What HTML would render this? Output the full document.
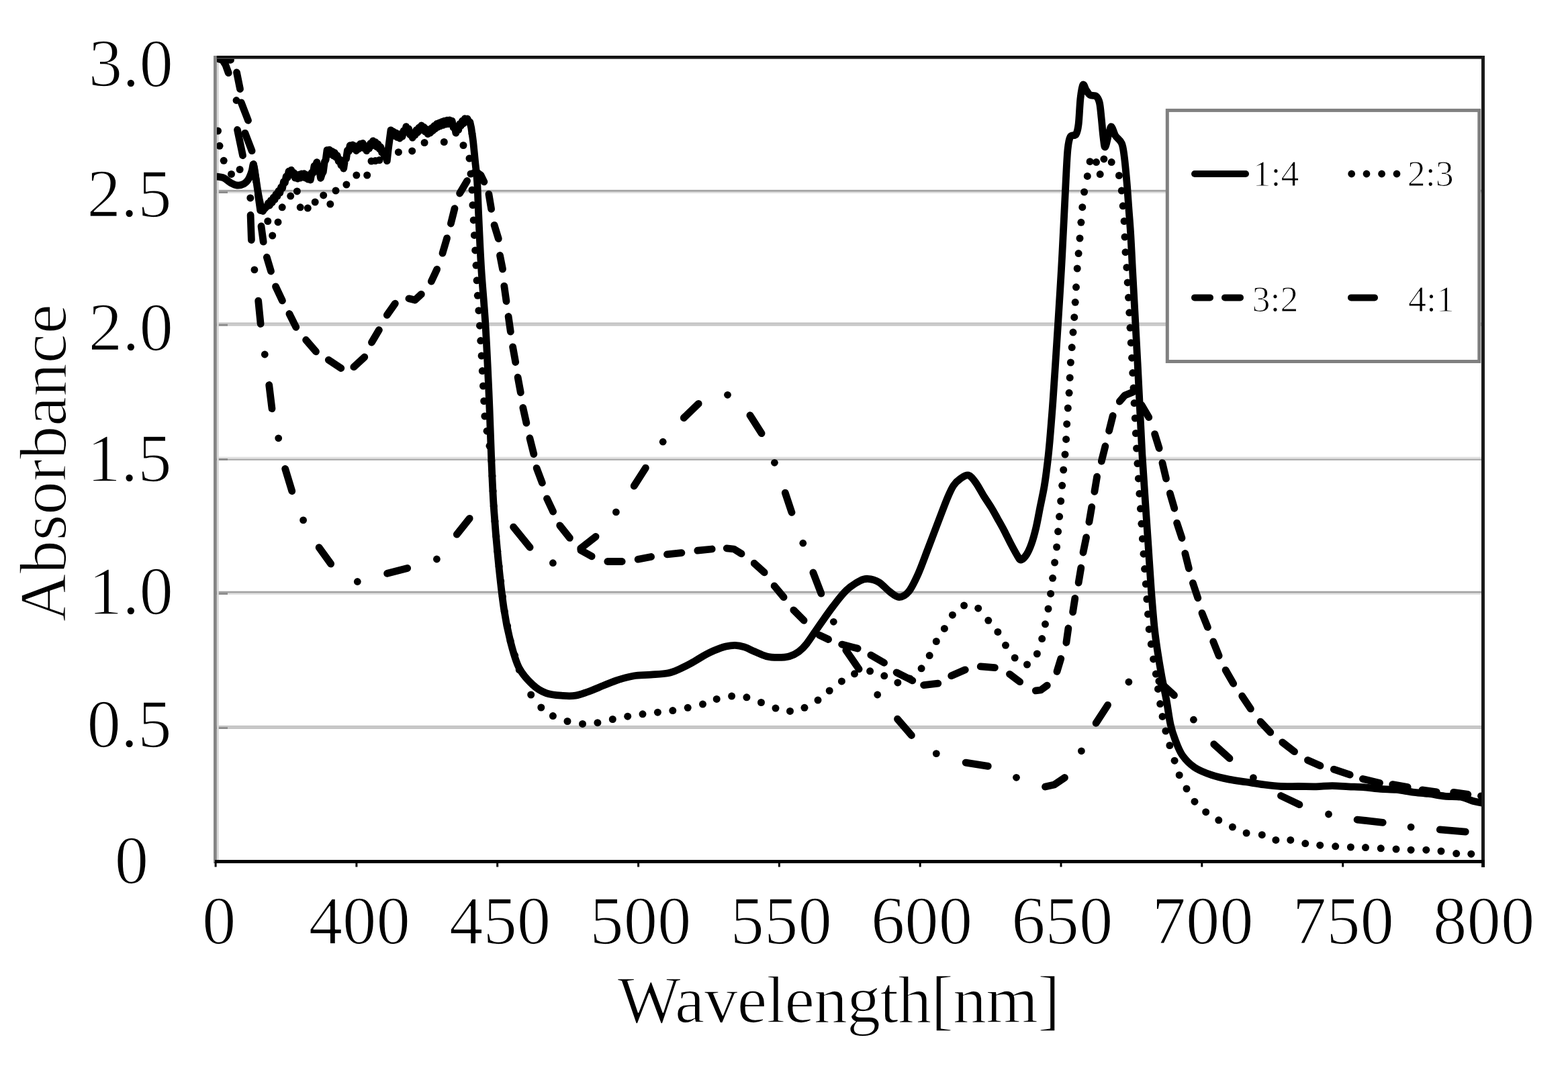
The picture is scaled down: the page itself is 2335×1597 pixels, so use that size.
<!DOCTYPE html><html><head><meta charset="utf-8"><title>Absorbance spectra</title>
<style>html,body{margin:0;padding:0;background:#fff;overflow:hidden}svg{display:block}text{font-family:"Liberation Serif","Times New Roman",serif;fill:#000;stroke:#fff;stroke-width:1.6px;stroke-linejoin:round}text.lg{stroke-width:1.1px}</style></head><body>
<svg width="2335" height="1597" viewBox="0 0 2335 1597">
<rect width="2335" height="1597" fill="#fff"/>
<rect x="320" y="282.8" width="1888" height="3" fill="#a3a3a3"/>
<rect x="320" y="285.8" width="1888" height="2.2" fill="#e0e0e0"/>
<rect x="322" y="285.2" width="17" height="2.8" fill="#8a8a8a"/>
<rect x="320" y="480.4" width="1888" height="3" fill="#c4c4c4"/>
<rect x="320" y="483.4" width="1888" height="2.2" fill="#c4c4c4"/>
<rect x="322" y="482.8" width="17" height="2.8" fill="#8a8a8a"/>
<rect x="320" y="680.6" width="1888" height="3" fill="#e0e0e0"/>
<rect x="320" y="683.6" width="1888" height="2.2" fill="#a8a8a8"/>
<rect x="322" y="683.0" width="17" height="2.8" fill="#8a8a8a"/>
<rect x="320" y="880.7" width="1888" height="3" fill="#a3a3a3"/>
<rect x="320" y="883.7" width="1888" height="2.2" fill="#e0e0e0"/>
<rect x="322" y="883.1" width="17" height="2.8" fill="#8a8a8a"/>
<rect x="320" y="1080.8" width="1888" height="3" fill="#c4c4c4"/>
<rect x="320" y="1083.8" width="1888" height="2.2" fill="#c4c4c4"/>
<rect x="322" y="1083.2" width="17" height="2.8" fill="#8a8a8a"/>
<rect x="322.8" y="86" width="3" height="1195" fill="#d8d8d8"/>
<defs><clipPath id="pc"><rect x="322.8" y="84" width="1884" height="1199"/></clipPath></defs>
<g clip-path="url(#pc)">
<g fill="none" stroke="#000" stroke-width="10.8" stroke-linecap="round" stroke-linejoin="round">
<path d="M321.0,263.0 C323.0,263.3 329.3,263.5 333.0,265.0 C336.7,266.5 339.7,270.2 343.0,272.0 C346.3,273.8 349.7,275.7 353.0,276.0 C356.3,276.3 360.2,275.5 363.0,274.0 C365.8,272.5 368.0,270.2 370.0,267.0 C372.0,263.8 373.8,258.7 375.0,255.0 C376.2,251.3 376.6,243.8 377.5,245.0 C378.4,246.2 379.4,255.3 380.5,262.0 C381.6,268.7 382.8,277.8 384.0,285.0 C385.2,292.2 386.8,300.2 388.0,305.0 C389.2,309.8 390.3,312.7 391.0,314.0 C391.7,315.3 391.8,313.2 392.0,313.0"/>
<path d="M392.0,313.0 L393.9,311.1 L395.8,309.2 L397.7,307.3 L399.6,302.4 L401.5,306.0 L403.4,298.3 L405.3,301.8 L407.2,294.1 L409.1,297.4 L411.0,289.3 L412.9,292.4 L414.8,284.4 L416.7,287.5 L418.6,278.9 L420.5,280.4 L422.4,270.7 L424.3,272.2 L426.2,262.8 L428.1,264.6 L430.0,255.2 L431.9,259.9 L433.8,253.3 L435.7,260.7 L437.6,257.3 L439.5,265.1 L441.4,261.1 L443.3,266.2 L445.2,260.1 L447.1,265.1 L449.0,259.0 L450.9,264.1 L452.8,258.6 L454.7,265.1 L456.6,260.5 L458.5,267.0 L460.4,262.4 L462.3,268.0 L464.2,257.3 L466.1,257.9 L468.0,247.2 L469.9,247.7 L471.8,241.7 L473.7,253.3 L475.6,253.7 L477.5,265.3 L479.4,259.4 L481.3,256.1 L483.2,241.5 L485.1,238.1 L487.0,223.6 L488.9,227.6 L490.8,223.1 L492.7,229.9 L494.6,225.4 L496.5,232.0 L498.4,227.4 L500.3,234.3 L502.2,231.6 L504.1,240.2 L506.0,237.6 L507.9,246.2 L509.8,243.5 L511.7,251.0 L513.6,238.3 L515.5,236.7 L517.4,224.0 L519.3,225.7 L521.2,216.7 L523.1,221.0 L525.0,215.8 L526.9,221.8 L528.8,217.5 L530.7,224.6 L532.6,217.8 L534.5,221.7 L536.4,214.5 L538.3,218.4 L540.2,213.4 L542.1,220.9 L544.0,217.2 L545.9,224.7 L547.8,217.4 L549.7,221.1 L551.6,213.6 L553.5,217.3 L555.4,209.8 L557.3,215.8 L559.2,211.7 L561.1,218.8 L563.0,214.6 L564.9,221.7 L566.8,218.9 L568.7,227.3 L570.6,224.6 L572.5,233.3 L574.4,230.9 L576.3,239.6 L578.2,222.6 L580.1,208.3 L582.0,193.8 L583.9,200.5 L585.8,195.9 L587.7,202.6 L589.6,197.9 L591.5,204.4 L593.4,199.6 L595.3,206.0 L597.2,200.9 L599.1,203.4 L601.0,194.8 L602.9,197.3 L604.8,188.6 L606.7,194.4 L608.6,191.9 L610.5,200.6 L612.4,198.1 L614.3,205.2 L616.2,197.6 L618.1,201.2 L620.0,193.6 L621.9,197.5 L623.8,190.2 L625.7,194.1 L627.6,186.9 L629.5,193.3 L631.4,189.3 L633.3,196.4 L635.2,192.3 L637.1,199.5 L639.0,193.8 L640.9,197.8 L642.8,190.6 L644.7,194.7 L646.6,187.5 L648.5,191.5 L650.4,184.4 L652.3,189.3 L654.2,183.0 L656.1,187.8 L658.0,181.5 L659.9,186.4 L661.8,180.1 L663.7,185.1 L665.6,179.2 L667.5,184.6 L669.4,178.8 L671.3,184.2 L673.2,180.2 L675.1,189.9 L677.0,188.4 L678.9,198.1 L680.8,191.2 L682.7,193.5 L684.6,184.6 L686.5,187.4 L688.4,180.1 L690.3,184.0 L692.2,176.7 L694.1,181.4 L696.0,176.9 L697.9,180.8 L699.8,181.8 L701.7,190.1 L703.0,199.2"/>
<path d="M703.0,199.2 C703.3,201.1 703.8,203.6 704.6,210.5 C705.4,217.4 706.6,230.6 707.6,240.7 C708.6,250.8 709.8,257.8 710.6,271.0 C711.5,284.2 711.7,298.5 712.7,320.0 C713.7,341.5 715.0,373.1 716.7,400.0 C718.4,426.9 720.9,451.1 722.8,481.5 C724.7,511.9 726.4,549.2 727.9,582.3 C729.4,615.4 730.4,651.1 731.6,680.0 C732.8,708.9 733.6,730.4 735.3,755.6 C737.0,780.8 739.1,805.8 741.6,831.0 C744.1,856.2 747.2,885.7 750.4,906.7 C753.5,927.7 756.7,942.3 760.5,957.0 C764.3,971.7 767.5,984.4 773.0,994.9 C778.5,1005.4 786.5,1013.7 793.2,1020.0 C799.9,1026.3 805.9,1029.9 813.4,1032.6 C820.9,1035.3 831.2,1035.8 838.5,1036.4 C845.8,1037.0 851.2,1037.1 857.2,1036.2 C863.2,1035.3 868.7,1033.0 874.4,1031.0 C880.1,1029.0 884.4,1027.1 891.6,1024.2 C898.8,1021.3 908.9,1016.7 917.5,1013.8 C926.1,1010.9 934.7,1008.4 943.3,1007.0 C951.9,1005.6 960.5,1005.9 969.1,1005.2 C977.7,1004.5 987.7,1004.1 994.9,1002.7 C1002.1,1001.3 1006.4,999.1 1012.1,996.6 C1017.8,994.1 1023.6,991.1 1029.3,988.0 C1035.0,984.9 1040.8,980.9 1046.5,977.7 C1052.2,974.6 1058.0,971.5 1063.8,969.1 C1069.5,966.7 1075.8,964.4 1081.0,963.1 C1086.2,961.8 1090.1,961.2 1094.7,961.3 C1099.3,961.4 1103.6,962.3 1108.5,963.9 C1113.4,965.5 1118.5,968.5 1124.0,970.8 C1129.5,973.1 1135.5,976.3 1141.2,977.7 C1146.9,979.1 1152.7,979.4 1158.4,979.4 C1164.1,979.4 1170.4,979.1 1175.6,977.7 C1180.8,976.3 1185.1,973.9 1189.4,970.8 C1193.7,967.6 1196.3,965.3 1201.4,958.8 C1206.5,952.3 1213.6,941.0 1220.1,931.8 C1226.6,922.6 1233.6,912.3 1240.3,903.6 C1247.0,894.9 1253.7,885.8 1260.4,879.4 C1267.1,873.0 1275.2,868.1 1280.6,865.3 C1286.0,862.4 1287.9,862.0 1292.6,862.3 C1297.3,862.6 1303.4,864.1 1308.8,867.3 C1314.2,870.5 1319.9,877.7 1324.9,881.4 C1329.9,885.1 1334.3,889.5 1339.0,889.5 C1343.7,889.5 1348.4,887.1 1353.1,881.4 C1357.8,875.7 1362.5,865.6 1367.2,855.2 C1371.9,844.8 1376.3,832.1 1381.3,819.0 C1386.3,805.9 1392.4,789.8 1397.4,776.7 C1402.4,763.6 1407.7,749.3 1411.5,740.4 C1415.3,731.5 1416.9,727.7 1420.0,723.2 C1423.1,718.7 1426.3,715.7 1430.0,713.2 C1433.7,710.7 1438.3,707.1 1442.2,708.1 C1446.1,709.1 1449.4,714.0 1453.2,719.2 C1457.0,724.4 1461.4,733.1 1465.3,739.3 C1469.2,745.5 1473.0,751.0 1476.4,756.5 C1479.8,762.0 1482.3,766.9 1485.5,772.6 C1488.7,778.3 1492.2,784.3 1495.5,790.7 C1498.8,797.1 1502.2,804.4 1505.6,810.8 C1509.0,817.2 1513.2,825.1 1515.7,829.0 C1518.2,832.9 1518.5,834.5 1520.7,834.0 C1522.9,833.5 1526.3,829.9 1528.8,826.0 C1531.3,822.1 1533.4,817.5 1535.8,810.8 C1538.2,804.1 1540.7,794.9 1542.9,785.7 C1545.1,776.5 1546.9,765.6 1548.9,755.5 C1550.9,745.4 1553.3,735.1 1555.0,725.0 C1556.7,714.9 1558.0,705.0 1559.2,695.0 C1560.5,685.0 1561.5,675.5 1562.5,665.0 C1563.5,654.5 1564.4,643.3 1565.3,632.0 C1566.2,620.7 1567.0,611.5 1568.0,597.0 C1569.0,582.5 1570.2,565.3 1571.5,545.0 C1572.8,524.7 1574.5,499.2 1576.0,475.0 C1577.5,450.8 1579.2,424.7 1580.6,400.0 C1582.0,375.3 1583.3,348.3 1584.4,326.6 C1585.5,304.9 1586.3,287.3 1587.2,270.0 C1588.1,252.7 1588.9,233.8 1590.0,222.8 C1591.1,211.8 1591.8,207.7 1593.8,203.9 C1595.8,200.1 1600.2,203.2 1602.3,200.1 C1604.3,196.9 1605.0,193.8 1606.1,185.0 C1607.2,176.2 1607.8,157.0 1608.9,147.2 C1610.0,137.4 1611.3,128.6 1612.7,126.4 C1614.1,124.2 1615.7,131.5 1617.4,134.0 C1619.1,136.5 1620.6,139.9 1623.1,141.5 C1625.6,143.1 1630.1,141.5 1632.5,143.4 C1634.9,145.3 1636.0,147.6 1637.3,152.9 C1638.6,158.2 1639.2,167.0 1640.1,175.5 C1641.0,184.0 1642.0,196.7 1642.9,203.9 C1643.9,211.2 1644.4,219.9 1645.8,219.0 C1647.2,218.1 1649.8,203.2 1651.4,198.2 C1653.0,193.2 1653.6,188.2 1655.2,188.8 C1656.8,189.4 1658.4,197.9 1660.9,202.0 C1663.4,206.1 1668.1,208.3 1670.3,213.3 C1672.5,218.3 1672.8,222.8 1674.1,232.2 C1675.4,241.6 1676.8,257.4 1677.9,270.0 C1679.0,282.6 1679.8,295.1 1680.7,307.7 C1681.6,320.3 1682.5,330.1 1683.5,345.5 C1684.5,360.9 1684.7,367.6 1686.4,400.0 C1688.2,432.4 1692.2,505.3 1694.0,540.0 C1695.8,574.7 1696.3,585.4 1697.4,608.0 C1698.5,630.6 1699.5,653.2 1700.8,675.9 C1702.1,698.5 1703.8,721.2 1705.3,743.9 C1706.8,766.5 1708.4,789.2 1709.9,811.8 C1711.4,834.4 1712.9,859.0 1714.4,879.7 C1716.0,900.4 1717.6,920.5 1719.2,935.9 C1720.8,951.2 1722.2,959.8 1724.0,971.8 C1725.8,983.8 1727.8,995.6 1730.0,1007.6 C1732.2,1019.6 1734.9,1031.5 1737.1,1043.5 C1739.3,1055.5 1740.9,1069.7 1743.1,1079.4 C1745.2,1089.2 1747.1,1094.4 1750.0,1102.0 C1752.9,1109.6 1755.8,1118.2 1760.6,1125.0 C1765.4,1131.8 1771.4,1138.1 1778.7,1143.1 C1786.0,1148.0 1795.9,1151.7 1804.5,1154.7 C1813.1,1157.7 1821.7,1159.4 1830.3,1161.1 C1838.9,1162.8 1847.5,1163.7 1856.1,1165.0 C1864.7,1166.3 1873.3,1167.8 1881.9,1168.9 C1890.5,1170.0 1899.1,1171.1 1907.7,1171.5 C1916.3,1171.9 1924.7,1171.5 1933.4,1171.5 C1942.1,1171.5 1951.6,1172.0 1960.0,1171.8 C1968.4,1171.6 1975.9,1170.6 1983.9,1170.6 C1991.9,1170.6 1999.8,1171.4 2007.8,1171.8 C2015.8,1172.2 2023.8,1172.3 2031.8,1172.9 C2039.8,1173.5 2047.7,1174.7 2055.7,1175.3 C2063.7,1175.9 2071.6,1175.7 2079.6,1176.5 C2087.6,1177.3 2095.5,1179.1 2103.5,1180.1 C2111.5,1181.1 2119.4,1181.5 2127.4,1182.5 C2135.4,1183.5 2143.3,1185.3 2151.3,1186.1 C2159.3,1186.9 2168.3,1186.1 2175.3,1187.3 C2182.3,1188.5 2188.1,1191.8 2193.2,1193.3 C2198.3,1194.8 2203.9,1195.5 2206.0,1196.0"/>
<path d="M326.5,88.2 L343.5,89.3"/>
<path d="M352.5,107.9 L357.5,132.6"/>
<path d="M359.2,152.8 L369.5,179.4"/>
<path d="M364.9,198.3 L375.1,224.7"/>
<path d="M377.4,244.5 L381.6,270.5"/>
<path d="M384.3,289.5 L387.7,313.5"/>
<path d="M389.0,336.9 L392.2,360.2"/>
<path d="M397.3,383.2 L403.5,404.0"/>
<path d="M410.5,426.9 L420.4,447.9"/>
<path d="M430.9,467.5 L440.8,487.3"/>
<path d="M455.6,506.5 L470.5,523.8"/>
<path d="M489.3,536.2 L507.8,548.5"/>
<path d="M526.8,546.7 L542.8,532.0"/>
<path d="M553.5,510.1 L564.4,491.6"/>
<path d="M576.3,469.4 L588.4,452.2"/>
<path d="M608.9,444.8 L618.0,447.0 L627.4,438.3"/>
<path d="M642.3,419.2 L650.7,401.2"/>
<path d="M659.0,377.2 L665.6,354.8"/>
<path d="M671.4,333.0 L677.0,310.6"/>
<path d="M684.6,288.0 L695.6,269.5"/>
<path d="M705.2,257.9 L709.0,256.0 L716.0,261.0 L720.9,270.8"/>
<path d="M727.9,289.2 L731.6,311.4"/>
<path d="M736.1,335.3 L742.3,355.6"/>
<path d="M744.5,380.5 L748.5,400.9"/>
<path d="M750.8,426.1 L754.0,448.8"/>
<path d="M757.1,471.5 L760.3,494.1"/>
<path d="M763.6,516.8 L767.7,539.5"/>
<path d="M771.1,562.1 L775.3,584.8"/>
<path d="M778.8,607.4 L783.9,630.2"/>
<path d="M788.9,652.7 L794.9,676.6"/>
<path d="M799.1,697.3 L807.4,719.3"/>
<path d="M814.5,742.8 L823.6,762.1"/>
<path d="M833.7,782.8 L848.4,801.4"/>
<path d="M864.9,819.8 L881.2,828.8"/>
<path d="M904.8,836.5 L926.2,836.5"/>
<path d="M950.1,833.2 L969.6,829.5"/>
<path d="M993.5,825.9 L1014.9,823.6"/>
<path d="M1038.8,820.2 L1060.2,818.0"/>
<path d="M1082.2,816.9 L1093.0,818.0 L1104.1,824.9"/>
<path d="M1123.2,839.2 L1138.2,852.8"/>
<path d="M1153.1,872.9 L1167.1,889.7"/>
<path d="M1181.8,908.9 L1197.1,924.3"/>
<path d="M1220.1,946.1 L1233.6,952.5"/>
<path d="M1253.7,960.1 L1277.1,966.0"/>
<path d="M1296.8,975.9 L1316.6,987.4"/>
<path d="M1335.1,1001.9 L1358.8,1013.8"/>
<path d="M1375.6,1020.6 L1396.8,1018.2"/>
<path d="M1416.7,1006.8 L1437.3,997.8"/>
<path d="M1460.2,992.9 L1481.4,994.6"/>
<path d="M1503.5,1004.3 L1518.7,1015.7"/>
<path d="M1542.3,1028.9 L1550.0,1028.0 L1559.3,1021.1"/>
<path d="M1574.0,1000.4 L1579.8,981.3"/>
<path d="M1587.9,957.3 L1590.9,936.0"/>
<path d="M1597.6,911.9 L1600.8,891.3"/>
<path d="M1606.1,868.2 L1609.8,846.0"/>
<path d="M1613.0,823.0 L1617.6,800.6"/>
<path d="M1621.9,777.6 L1625.7,755.4"/>
<path d="M1629.9,732.3 L1633.6,710.1"/>
<path d="M1640.3,687.1 L1645.9,664.7"/>
<path d="M1651.6,641.8 L1657.2,619.4"/>
<path d="M1667.3,598.1 L1675.0,589.0 L1687.2,584.0"/>
<path d="M1699.9,603.3 L1710.8,621.7"/>
<path d="M1719.6,646.6 L1726.2,667.8"/>
<path d="M1730.9,689.6 L1736.5,713.1"/>
<path d="M1742.3,734.9 L1748.8,757.3"/>
<path d="M1752.6,779.1 L1760.0,801.5"/>
<path d="M1764.8,824.4 L1770.4,846.8"/>
<path d="M1776.4,868.6 L1783.8,890.9"/>
<path d="M1789.9,913.3 L1798.4,934.4"/>
<path d="M1806.7,955.8 L1815.2,977.0"/>
<path d="M1825.1,998.3 L1836.7,1018.4"/>
<path d="M1849.7,1036.9 L1862.4,1055.9"/>
<path d="M1877.1,1075.2 L1891.8,1091.0"/>
<path d="M1909.7,1105.9 L1927.6,1119.7"/>
<path d="M1947.4,1132.5 L1966.0,1140.8"/>
<path d="M1986.3,1146.2 L2010.2,1154.2"/>
<path d="M2029.4,1160.4 L2054.5,1166.4"/>
<path d="M2073.7,1168.6 L2096.2,1172.5"/>
<path d="M2118.0,1176.8 L2139.3,1179.8"/>
<path d="M2164.6,1180.4 L2185.9,1183.4"/>
<path d="M2205.5,1185.8 L2207.0,1186.0"/>
<path d="M325.4,87.6 L331.0,89.0 L336.0,97.0 L340.2,108.6"/>
<path d="M353.5,193.4 L361.5,231.6"/>
<path d="M373.1,320.5 L374.4,357.5"/>
<path d="M384.7,448.2 L388.1,482.5"/>
<path d="M400.7,573.5 L405.0,608.8"/>
<path d="M424.7,698.4 L434.8,731.6"/>
<path d="M475.1,815.6 L492.7,840.0"/>
<path d="M576.6,854.3 L606.7,846.5"/>
<path d="M680.3,796.1 L699.2,772.3"/>
<path d="M764.6,785.2 L789.1,815.4"/>
<path d="M864.7,817.1 L887.1,799.4"/>
<path d="M944.2,724.0 L961.4,697.1"/>
<path d="M1018.3,622.5 L1040.2,601.3"/>
<path d="M1116.9,618.7 L1134.1,645.7"/>
<path d="M1169.3,734.2 L1179.0,763.4"/>
<path d="M1210.9,853.0 L1222.9,884.2"/>
<path d="M1259.8,968.7 L1279.1,996.7"/>
<path d="M1336.5,1071.2 L1357.4,1095.5"/>
<path d="M1438.1,1136.1 L1471.3,1141.3"/>
<path d="M1556.5,1172.1 L1570.0,1169.0 L1585.5,1158.5"/>
<path d="M1632.1,1077.3 L1649.6,1050.4"/>
<path d="M1725.8,1014.7 L1731.0,1019.6 L1748.5,1035.8"/>
<path d="M1807.7,1108.7 L1831.0,1129.8"/>
<path d="M1907.4,1185.5 L1935.0,1198.7"/>
<path d="M2021.1,1221.1 L2059.2,1225.3"/>
<path d="M2144.3,1235.9 L2182.3,1239.1"/>
</g>
<g fill="#000">
<circle cx="352.0" cy="149.5" r="5.4"/>
<circle cx="378.9" cy="401.9" r="5.4"/>
<circle cx="394.3" cy="528.0" r="5.4"/>
<circle cx="414.7" cy="652.8" r="5.4"/>
<circle cx="451.6" cy="774.9" r="5.4"/>
<circle cx="532.3" cy="866.5" r="5.4"/>
<circle cx="650.4" cy="833.0" r="5.4"/>
<circle cx="823.4" cy="838.7" r="5.4"/>
<circle cx="917.4" cy="762.9" r="5.4"/>
<circle cx="987.2" cy="658.2" r="5.4"/>
<circle cx="1083.5" cy="588.3" r="5.4"/>
<circle cx="1153.4" cy="689.3" r="5.4"/>
<circle cx="1195.8" cy="809.2" r="5.4"/>
<circle cx="1241.3" cy="926.3" r="5.4"/>
<circle cx="1306.7" cy="1035.0" r="5.4"/>
<circle cx="1394.3" cy="1122.6" r="5.4"/>
<circle cx="1513.5" cy="1158.3" r="5.4"/>
<circle cx="1610.4" cy="1118.8" r="5.4"/>
<circle cx="1680.9" cy="1016.0" r="5.4"/>
<circle cx="1777.4" cy="1072.2" r="5.4"/>
<circle cx="1866.4" cy="1158.6" r="5.4"/>
<circle cx="1978.5" cy="1213.0" r="5.4"/>
<circle cx="2101.1" cy="1232.1" r="5.4"/>
<circle cx="324.5" cy="195.0" r="5.5"/>
<circle cx="327.0" cy="217.3" r="5.5"/>
<circle cx="333.2" cy="239.3" r="5.5"/>
<circle cx="344.5" cy="259.4" r="5.5"/>
<circle cx="357.1" cy="252.5" r="5.5"/>
<circle cx="372.8" cy="294.9" r="5.5"/>
<circle cx="398.8" cy="329.5" r="5.5"/>
<circle cx="405.7" cy="351.0" r="5.5"/>
<circle cx="414.0" cy="330.9" r="5.5"/>
<circle cx="420.2" cy="308.8" r="5.5"/>
<circle cx="432.7" cy="292.1" r="5.5"/>
<circle cx="442.4" cy="284.9" r="5.5"/>
<circle cx="447.2" cy="308.8" r="5.5"/>
<circle cx="458.3" cy="310.1" r="5.5"/>
<circle cx="469.2" cy="301.0" r="5.5"/>
<circle cx="481.7" cy="290.9" r="5.5"/>
<circle cx="491.8" cy="304.1" r="5.5"/>
<circle cx="500.0" cy="284.0" r="5.5"/>
<circle cx="515.9" cy="275.0" r="5.5"/>
<circle cx="530.8" cy="261.0" r="5.5"/>
<circle cx="546.7" cy="261.0" r="5.5"/>
<circle cx="553.0" cy="240.0" r="5.5"/>
<circle cx="559.0" cy="239.5" r="5.5"/>
<circle cx="565.0" cy="238.5" r="5.5"/>
<circle cx="593.4" cy="226.7" r="5.5"/>
<circle cx="613.7" cy="224.9" r="5.5"/>
<circle cx="632.1" cy="212.5" r="5.5"/>
<circle cx="661.3" cy="211.5" r="5.5"/>
<circle cx="690.0" cy="216.5" r="5.5"/>
<circle cx="699.0" cy="236.0" r="5.5"/>
<circle cx="701.0" cy="259.0" r="5.5"/>
<circle cx="703.0" cy="283.0" r="5.5"/>
<circle cx="704.0" cy="305.5" r="5.5"/>
<circle cx="705.2" cy="327.9" r="5.5"/>
<circle cx="706.4" cy="350.4" r="5.5"/>
<circle cx="707.7" cy="372.9" r="5.5"/>
<circle cx="709.0" cy="395.3" r="5.5"/>
<circle cx="710.1" cy="417.8" r="5.5"/>
<circle cx="711.3" cy="440.3" r="5.5"/>
<circle cx="712.9" cy="462.7" r="5.5"/>
<circle cx="714.5" cy="485.2" r="5.5"/>
<circle cx="715.8" cy="507.6" r="5.5"/>
<circle cx="717.1" cy="530.1" r="5.5"/>
<circle cx="718.3" cy="552.6" r="5.5"/>
<circle cx="719.5" cy="575.0" r="5.5"/>
<circle cx="720.7" cy="597.5" r="5.5"/>
<circle cx="721.9" cy="620.0" r="5.5"/>
<circle cx="725.1" cy="642.2" r="5.5"/>
<circle cx="729.0" cy="664.3" r="5.5"/>
<circle cx="731.9" cy="686.6" r="5.5"/>
<circle cx="733.0" cy="709.1" r="5.5"/>
<circle cx="734.1" cy="731.6" r="5.5"/>
<circle cx="735.2" cy="754.0" r="5.5"/>
<circle cx="737.0" cy="776.5" r="5.5"/>
<circle cx="738.9" cy="798.9" r="5.5"/>
<circle cx="740.8" cy="821.3" r="5.5"/>
<circle cx="743.1" cy="843.7" r="5.5"/>
<circle cx="745.7" cy="866.0" r="5.5"/>
<circle cx="748.3" cy="888.4" r="5.5"/>
<circle cx="751.2" cy="910.7" r="5.5"/>
<circle cx="755.6" cy="932.7" r="5.5"/>
<circle cx="760.1" cy="954.8" r="5.5"/>
<circle cx="766.6" cy="976.3" r="5.5"/>
<circle cx="773.2" cy="997.8" r="5.5"/>
<circle cx="790.7" cy="1035.0" r="5.5"/>
<circle cx="805.8" cy="1054.0" r="5.5"/>
<circle cx="823.4" cy="1066.6" r="5.5"/>
<circle cx="845.0" cy="1074.5" r="5.5"/>
<circle cx="867.5" cy="1078.4" r="5.5"/>
<circle cx="889.9" cy="1076.7" r="5.5"/>
<circle cx="912.3" cy="1071.5" r="5.5"/>
<circle cx="934.7" cy="1067.2" r="5.5"/>
<circle cx="957.0" cy="1063.8" r="5.5"/>
<circle cx="979.4" cy="1061.2" r="5.5"/>
<circle cx="1001.8" cy="1058.6" r="5.5"/>
<circle cx="1024.2" cy="1054.3" r="5.5"/>
<circle cx="1046.5" cy="1049.1" r="5.5"/>
<circle cx="1067.2" cy="1041.4" r="5.5"/>
<circle cx="1089.6" cy="1037.1" r="5.5"/>
<circle cx="1111.9" cy="1038.8" r="5.5"/>
<circle cx="1133.5" cy="1046.5" r="5.5"/>
<circle cx="1155.0" cy="1055.1" r="5.5"/>
<circle cx="1176.5" cy="1059.4" r="5.5"/>
<circle cx="1198.0" cy="1054.3" r="5.5"/>
<circle cx="1218.0" cy="1043.1" r="5.5"/>
<circle cx="1235.2" cy="1029.0" r="5.5"/>
<circle cx="1253.4" cy="1014.9" r="5.5"/>
<circle cx="1272.5" cy="1003.8" r="5.5"/>
<circle cx="1295.6" cy="999.8" r="5.5"/>
<circle cx="1316.8" cy="1006.8" r="5.5"/>
<circle cx="1336.9" cy="1016.9" r="5.5"/>
<circle cx="1355.0" cy="1011.0" r="5.5"/>
<circle cx="1372.1" cy="995.8" r="5.5"/>
<circle cx="1384.2" cy="976.6" r="5.5"/>
<circle cx="1394.3" cy="955.5" r="5.5"/>
<circle cx="1406.4" cy="936.4" r="5.5"/>
<circle cx="1418.4" cy="916.2" r="5.5"/>
<circle cx="1435.6" cy="902.1" r="5.5"/>
<circle cx="1456.7" cy="906.2" r="5.5"/>
<circle cx="1471.8" cy="924.3" r="5.5"/>
<circle cx="1485.9" cy="941.4" r="5.5"/>
<circle cx="1497.5" cy="961.3" r="5.5"/>
<circle cx="1511.2" cy="980.1" r="5.5"/>
<circle cx="1529.5" cy="990.0" r="5.5"/>
<circle cx="1544.4" cy="974.0" r="5.5"/>
<circle cx="1551.7" cy="951.6" r="5.5"/>
<circle cx="1556.5" cy="929.8" r="5.5"/>
<circle cx="1561.0" cy="907.0" r="5.5"/>
<circle cx="1564.6" cy="884.4" r="5.5"/>
<circle cx="1567.6" cy="861.3" r="5.5"/>
<circle cx="1570.6" cy="838.1" r="5.5"/>
<circle cx="1573.6" cy="815.0" r="5.5"/>
<circle cx="1575.6" cy="791.8" r="5.5"/>
<circle cx="1577.6" cy="769.6" r="5.5"/>
<circle cx="1579.7" cy="746.5" r="5.5"/>
<circle cx="1581.7" cy="723.3" r="5.5"/>
<circle cx="1583.7" cy="700.0" r="5.5"/>
<circle cx="1586.0" cy="677.0" r="5.5"/>
<circle cx="1587.6" cy="654.4" r="5.5"/>
<circle cx="1588.7" cy="631.7" r="5.5"/>
<circle cx="1590.3" cy="608.0" r="5.5"/>
<circle cx="1592.1" cy="585.3" r="5.5"/>
<circle cx="1593.2" cy="562.7" r="5.5"/>
<circle cx="1594.4" cy="540.0" r="5.5"/>
<circle cx="1596.2" cy="517.6" r="5.5"/>
<circle cx="1598.0" cy="495.1" r="5.5"/>
<circle cx="1599.8" cy="472.7" r="5.5"/>
<circle cx="1601.2" cy="450.3" r="5.5"/>
<circle cx="1602.5" cy="427.8" r="5.5"/>
<circle cx="1604.2" cy="400.0" r="5.5"/>
<circle cx="1606.1" cy="377.6" r="5.5"/>
<circle cx="1608.0" cy="355.0" r="5.5"/>
<circle cx="1609.9" cy="331.3" r="5.5"/>
<circle cx="1611.8" cy="308.7" r="5.5"/>
<circle cx="1614.6" cy="286.0" r="5.5"/>
<circle cx="1619.3" cy="262.4" r="5.5"/>
<circle cx="1623.1" cy="240.7" r="5.5"/>
<circle cx="1632.5" cy="241.6" r="5.5"/>
<circle cx="1638.2" cy="259.6" r="5.5"/>
<circle cx="1643.9" cy="236.9" r="5.5"/>
<circle cx="1655.2" cy="241.6" r="5.5"/>
<circle cx="1666.5" cy="261.5" r="5.5"/>
<circle cx="1670.3" cy="284.1" r="5.5"/>
<circle cx="1672.2" cy="306.8" r="5.5"/>
<circle cx="1674.1" cy="329.5" r="5.5"/>
<circle cx="1675.0" cy="353.1" r="5.5"/>
<circle cx="1676.0" cy="375.7" r="5.5"/>
<circle cx="1677.9" cy="398.4" r="5.5"/>
<circle cx="1679.2" cy="420.9" r="5.5"/>
<circle cx="1680.5" cy="443.3" r="5.5"/>
<circle cx="1681.8" cy="465.8" r="5.5"/>
<circle cx="1683.0" cy="488.3" r="5.5"/>
<circle cx="1684.3" cy="510.7" r="5.5"/>
<circle cx="1685.6" cy="533.2" r="5.5"/>
<circle cx="1686.8" cy="555.6" r="5.5"/>
<circle cx="1688.0" cy="578.1" r="5.5"/>
<circle cx="1689.1" cy="600.6" r="5.5"/>
<circle cx="1690.3" cy="623.1" r="5.5"/>
<circle cx="1691.4" cy="645.5" r="5.5"/>
<circle cx="1692.6" cy="668.0" r="5.5"/>
<circle cx="1694.0" cy="690.5" r="5.5"/>
<circle cx="1695.4" cy="712.9" r="5.5"/>
<circle cx="1696.9" cy="735.4" r="5.5"/>
<circle cx="1698.4" cy="757.8" r="5.5"/>
<circle cx="1699.9" cy="780.3" r="5.5"/>
<circle cx="1701.4" cy="802.7" r="5.5"/>
<circle cx="1703.0" cy="825.2" r="5.5"/>
<circle cx="1704.6" cy="847.6" r="5.5"/>
<circle cx="1706.3" cy="870.0" r="5.5"/>
<circle cx="1707.9" cy="892.5" r="5.5"/>
<circle cx="1709.5" cy="914.9" r="5.5"/>
<circle cx="1711.2" cy="937.4" r="5.5"/>
<circle cx="1714.3" cy="959.6" r="5.5"/>
<circle cx="1717.6" cy="981.9" r="5.5"/>
<circle cx="1721.3" cy="1004.1" r="5.5"/>
<circle cx="1724.5" cy="1026.4" r="5.5"/>
<circle cx="1727.7" cy="1048.6" r="5.5"/>
<circle cx="1731.1" cy="1067.4" r="5.5"/>
<circle cx="1735.9" cy="1089.0" r="5.5"/>
<circle cx="1741.9" cy="1110.5" r="5.5"/>
<circle cx="1749.1" cy="1133.2" r="5.5"/>
<circle cx="1756.2" cy="1154.7" r="5.5"/>
<circle cx="1767.0" cy="1175.0" r="5.5"/>
<circle cx="1779.0" cy="1194.2" r="5.5"/>
<circle cx="1795.7" cy="1209.7" r="5.5"/>
<circle cx="1814.8" cy="1221.8" r="5.5"/>
<circle cx="1835.4" cy="1232.1" r="5.5"/>
<circle cx="1856.1" cy="1241.1" r="5.5"/>
<circle cx="1879.3" cy="1243.7" r="5.5"/>
<circle cx="1899.9" cy="1251.4" r="5.5"/>
<circle cx="1921.8" cy="1251.4" r="5.5"/>
<circle cx="1943.8" cy="1256.6" r="5.5"/>
<circle cx="1965.7" cy="1259.2" r="5.5"/>
<circle cx="1988.7" cy="1260.8" r="5.5"/>
<circle cx="2011.4" cy="1262.0" r="5.5"/>
<circle cx="2033.5" cy="1262.6" r="5.5"/>
<circle cx="2056.3" cy="1263.8" r="5.5"/>
<circle cx="2079.0" cy="1265.0" r="5.5"/>
<circle cx="2101.1" cy="1266.2" r="5.5"/>
<circle cx="2123.8" cy="1266.2" r="5.5"/>
<circle cx="2146.0" cy="1268.0" r="5.5"/>
<circle cx="2168.7" cy="1271.6" r="5.5"/>
<circle cx="2190.8" cy="1272.2" r="5.5"/>
</g>
</g>
<rect x="320" y="83" width="1891" height="3" fill="#000"/>
<rect x="320" y="86" width="1891" height="2" fill="#3a3a3a"/>
<rect x="2206" y="83" width="5" height="209" fill="#1a1a1a"/>
<rect x="2206" y="292" width="5" height="1000" fill="#1a1a1a"/>
<rect x="318" y="83" width="4.8" height="1203" fill="#858585"/>
<rect x="320" y="1281" width="1891" height="5" fill="#000"/>
<rect x="319.6" y="1284" width="3" height="7.5" fill="#000"/>
<rect x="529.4" y="1284" width="3" height="7.5" fill="#000"/>
<rect x="739.2" y="1284" width="3" height="7.5" fill="#000"/>
<rect x="949.1" y="1284" width="3" height="7.5" fill="#000"/>
<rect x="1158.9" y="1284" width="3" height="7.5" fill="#000"/>
<rect x="1368.7" y="1284" width="3" height="7.5" fill="#000"/>
<rect x="1578.5" y="1284" width="3" height="7.5" fill="#000"/>
<rect x="1788.3" y="1284" width="3" height="7.5" fill="#000"/>
<rect x="1998.2" y="1284" width="3" height="7.5" fill="#000"/>
<rect x="2208.0" y="1284" width="3" height="7.5" fill="#000"/>
<rect x="1738.3" y="164.4" width="464.5" height="374.1" fill="#fff" stroke="#808080" stroke-width="5"/>
<g stroke="#000" stroke-width="10" fill="none" stroke-linecap="round">
<path d="M1779,259 L1855,259"/>
<path d="M1779,443.4 L1802,443.4 M1824,443.4 L1847,443.4"/>
<path d="M2012,443.4 L2047,443.4"/>
</g>
<g fill="#000">
<circle cx="2012.7" cy="259" r="5.4"/>
<circle cx="2035.0" cy="259" r="5.4"/>
<circle cx="2057.6" cy="259" r="5.4"/>
<circle cx="2080.0" cy="259" r="5.4"/>
</g>
<text x="1865.5" y="277.4" font-size="54" class="lg">1:4</text>
<text x="2095.8" y="277.4" font-size="54" class="lg">2:3</text>
<text x="1864.5" y="464" font-size="54" class="lg">3:2</text>
<text x="2097" y="464" font-size="54" class="lg">4:1</text>
<text x="257.8" y="128.8" font-size="100.8" text-anchor="end">3.0</text>
<text x="255.6" y="323.4" font-size="100.8" text-anchor="end">2.5</text>
<text x="257.8" y="521.8" font-size="100.8" text-anchor="end">2.0</text>
<text x="255.6" y="717.0" font-size="100.8" text-anchor="end">1.5</text>
<text x="257.8" y="914.6" font-size="100.8" text-anchor="end">1.0</text>
<text x="255.6" y="1113.3" font-size="100.8" text-anchor="end">0.5</text>
<text x="196" y="1316.3" font-size="100.8" text-anchor="middle">0</text>
<text x="326.3" y="1406.2" font-size="100.8" text-anchor="middle">0</text>
<text x="535.3" y="1406.2" font-size="100.8" text-anchor="middle">400</text>
<text x="744.6" y="1406.2" font-size="100.8" text-anchor="middle">450</text>
<text x="953.9" y="1406.2" font-size="100.8" text-anchor="middle">500</text>
<text x="1163.2" y="1406.2" font-size="100.8" text-anchor="middle">550</text>
<text x="1372.5" y="1406.2" font-size="100.8" text-anchor="middle">600</text>
<text x="1581.8" y="1406.2" font-size="100.8" text-anchor="middle">650</text>
<text x="1791.1" y="1406.2" font-size="100.8" text-anchor="middle">700</text>
<text x="2000.4" y="1406.2" font-size="100.8" text-anchor="middle">750</text>
<text x="2209.7" y="1406.2" font-size="100.8" text-anchor="middle">800</text>
<text x="919.5" y="1522.8" font-size="100" textLength="659" lengthAdjust="spacing">Wavelength[nm]</text>
<text transform="translate(98.3,926.3) rotate(-90)" font-size="99" textLength="473" lengthAdjust="spacing">Absorbance</text>
</svg></body></html>
